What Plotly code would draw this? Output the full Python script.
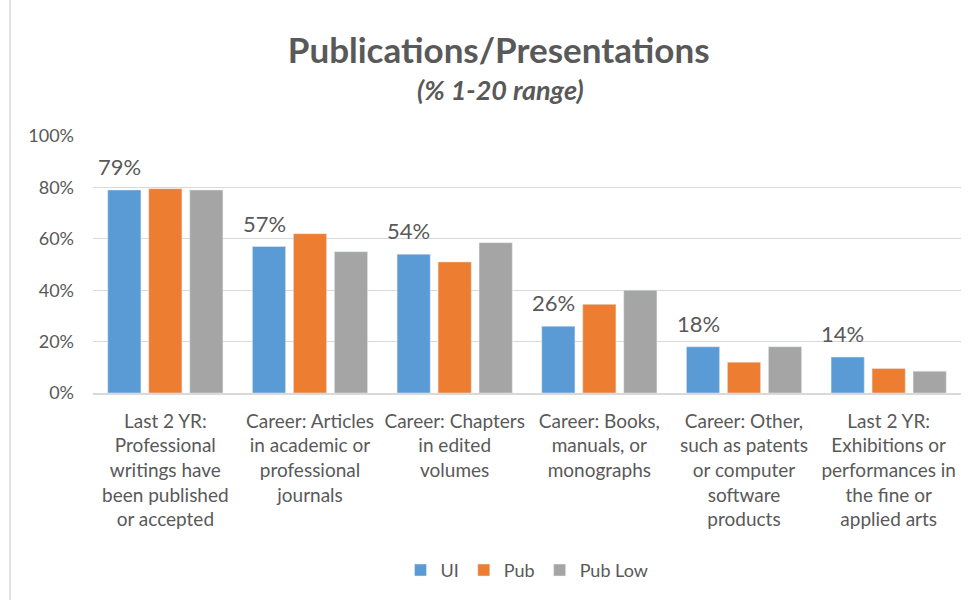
import plotly.graph_objects as go

categories = [
    "Last 2 YR:<br>Professional<br>writings have<br>been published<br>or accepted",
    "Career: Articles<br>in academic or<br>professional<br>journals",
    "Career: Chapters<br>in edited<br>volumes",
    "Career: Books,<br>manuals, or<br>monographs",
    "Career: Other,<br>such as patents<br>or computer<br>software<br>products",
    "Last 2 YR:<br>Exhibitions or<br>performances in<br>the fine or<br>applied arts",
]
ui = [79, 57, 54, 26, 18, 14]
pub = [79.5, 62, 51, 34.5, 12, 9.5]
pub_low = [79, 55, 58.5, 40, 18, 8.5]
y_ticks = [0, 20, 40, 60, 80, 100]

FONT = "Lato"
GREY_TEXT = "#595959"

fig = go.Figure()
fig.add_trace(go.Bar(x=categories, y=ui, name="UI", marker=dict(color="#5B9BD5")))
fig.add_trace(go.Bar(x=categories, y=pub, name="Pub", marker=dict(color="#ED7D31")))
fig.add_trace(go.Bar(x=categories, y=pub_low, name="Pub Low", marker=dict(color="#A5A5A5")))

# data labels only on the UI series, above the left bar of each group
for cat, v in zip(categories, ui):
    fig.add_annotation(
        x=cat, y=v, text=f"{v}%", showarrow=False,
        xanchor="center", yanchor="bottom", xshift=-46, yshift=8,
        font=dict(size=22, color=GREY_TEXT, family=FONT),
    )

# subtitle under the main title
fig.add_annotation(
    xref="paper", yref="paper", x=0.47, y=1.179,
    text="<b><i>(% 1-20 range)</i></b>", showarrow=False,
    xanchor="center", yanchor="middle",
    font=dict(size=27, color=GREY_TEXT, family=FONT),
)

fig.update_layout(
    width=974, height=600,
    margin=dict(l=93, r=13, t=136, b=207),
    paper_bgcolor="white", plot_bgcolor="white",
    font=dict(family=FONT, size=18, color=GREY_TEXT),
    barmode="group", bargap=0.15, bargroupgap=0.19,
    title=dict(
        text="<b>Publications/Presentations</b>",
        x=0.512, xanchor="center", yref="container", y=0.915, yanchor="middle",
        font=dict(size=35, color=GREY_TEXT, family=FONT),
    ),
    legend=dict(
        orientation="h", x=0.5, xanchor="center", y=-0.69, yanchor="middle",
        font=dict(size=18, color=GREY_TEXT), itemwidth=30,
    ),
    showlegend=True,
)
fig.update_yaxes(
    range=[0, 100], tickvals=y_ticks, ticktext=[f"{v}%" for v in y_ticks],
    showgrid=True, gridcolor="#D9D9D9", gridwidth=1, zeroline=False,
    ticks="", tickfont=dict(size=18, color=GREY_TEXT), ticklabelstandoff=18,
    automargin=False,
)
fig.update_xaxes(
    showline=True, linecolor="#D9D9D9", linewidth=1.5, ticks="",
    tickfont=dict(size=19, color=GREY_TEXT), tickangle=0,
    ticklabelstandoff=10, automargin=False,
)
fig.add_shape(type="line", xref="paper", yref="paper",
              x0=-0.0956, x1=-0.0956, y0=-0.82, y1=1.6,
              line=dict(color="#D9D9D9", width=1.5))

fig.write_html("out.html", config={"displayModeBar": False},
               post_script="document.body.style.margin='0';")
